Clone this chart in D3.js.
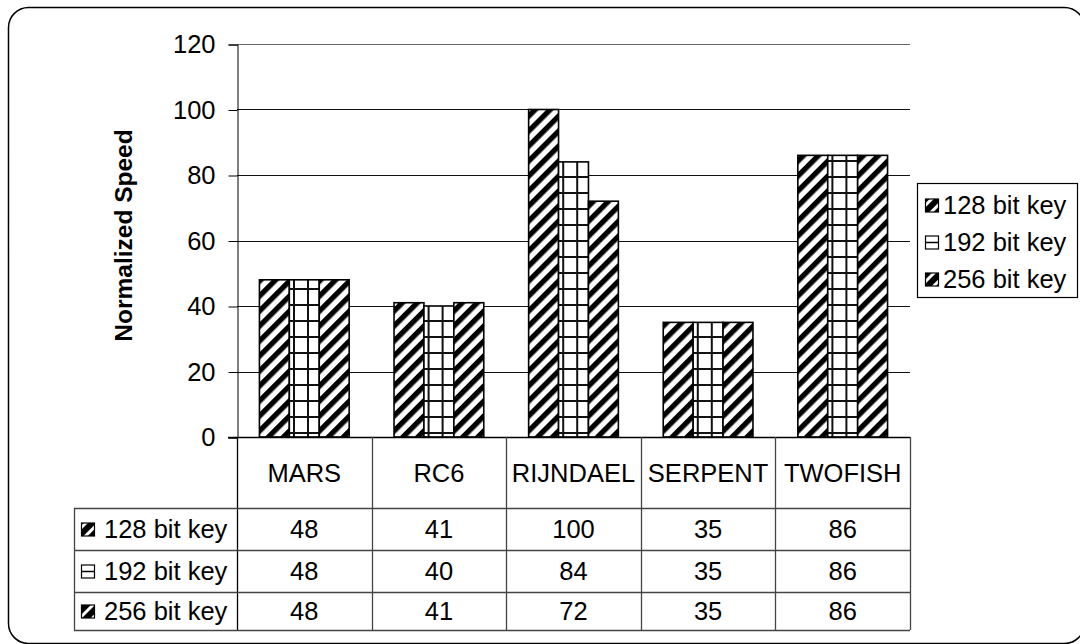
<!DOCTYPE html>
<html>
<head>
<meta charset="utf-8">
<script src="https://cdn.jsdelivr.net/npm/d3@7"></script>
<style>
  html, body { margin: 0; padding: 0; background: #fff; }
  svg { display: block; font-family: "Liberation Sans", Arial, sans-serif; }
</style>
</head>
<body>
<svg id="chart" width="1080" height="644"></svg>
<script>
// Cipher throughput normalized to the fastest configuration
const ciphers = ["MARS", "RC6", "RIJNDAEL", "SERPENT", "TWOFISH"];
const keySizes = ["128 bit key", "192 bit key", "256 bit key"];
const key128 = [48, 41, 100, 35, 86];
const key192 = [48, 40, 84, 35, 86];
const key256 = [48, 41, 72, 35, 86];
const yTicks = [0, 20, 40, 60, 80, 100, 120];
const yTitle = "Normalized Speed";

const seriesValues = [key128, key192, key256];
const patternIds = ["diag", "grid", "diag"];

const FS = 25.5;

const svg = d3.select("#chart");
const plot = { left: 237, right: 910, top: 44, bottom: 437 };
const table = { left: 74, headBottom: 508, rowH: [550, 592, 630] };

// Fill patterns
const defs = svg.append("defs");
const diag = defs.append("pattern")
  .attr("id", "diag").attr("patternUnits", "userSpaceOnUse")
  .attr("width", 10.6).attr("height", 10.6)
  .attr("patternTransform", "rotate(45)");
diag.append("rect").attr("width", 10.6).attr("height", 10.6).attr("fill", "#fff");
diag.append("rect").attr("width", 5.3).attr("height", 10.6).attr("fill", "#000");

const grid = defs.append("pattern")
  .attr("id", "grid").attr("patternUnits", "userSpaceOnUse")
  .attr("width", 14).attr("height", 16);
grid.append("rect").attr("width", 14).attr("height", 16).attr("fill", "#fff");
grid.append("rect").attr("x", 0).attr("y", 0).attr("width", 2).attr("height", 16).attr("fill", "#111");
grid.append("rect").attr("x", 0).attr("y", 0).attr("width", 14).attr("height", 2).attr("fill", "#111");

const swDiag = defs.append("pattern")
  .attr("id", "swdiag").attr("patternUnits", "userSpaceOnUse")
  .attr("width", 9).attr("height", 9)
  .attr("patternTransform", "rotate(45)");
swDiag.append("rect").attr("width", 9).attr("height", 9).attr("fill", "#fff");
swDiag.append("rect").attr("width", 6).attr("height", 9).attr("fill", "#000");

// Outer frame
svg.append("rect")
  .attr("x", 8.5).attr("y", 7.5).attr("width", 1076).attr("height", 636)
  .attr("rx", 20).attr("ry", 20)
  .attr("fill", "#fff").attr("stroke", "#000").attr("stroke-width", 1.5);

// Scales
const x = d3.scaleBand().domain(ciphers).range([plot.left, plot.right]).padding(0);
const bw = x.bandwidth();
const xs = d3.scaleBand().domain(keySizes).range([bw / 6, bw * 5 / 6]).padding(0);
const y = d3.scaleLinear().domain([0, 120]).range([plot.bottom, plot.top]);

// Gridlines
svg.append("g").selectAll("line").data(yTicks.filter(t => t > 0)).join("line")
  .attr("x1", plot.left).attr("x2", plot.right)
  .attr("y1", d => Math.round(y(d)) + 0.5).attr("y2", d => Math.round(y(d)) + 0.5)
  .attr("stroke", d => d === 120 ? "#666" : "#111").attr("stroke-width", 1);

// Y axis
const yAxis = d3.axisLeft(y).tickValues(yTicks).tickSize(9).tickPadding(13);
const gy = svg.append("g").attr("transform", `translate(${plot.left + 0.5},0.5)`).call(yAxis);
gy.select(".domain").attr("stroke", "#000");
gy.selectAll(".tick line").attr("stroke", "#000");
gy.selectAll(".tick text").attr("font-size", FS).attr("fill", "#000")
  .attr("font-family", "Liberation Sans, Arial, sans-serif");

// Y title
svg.append("text")
  .attr("transform", `translate(126,${(plot.top + plot.bottom) / 2 - 5}) rotate(-90)`)
  .attr("text-anchor", "middle").attr("dominant-baseline", "middle")
  .attr("font-size", 24.5).attr("font-weight", "bold").text(yTitle);

// Bars
const groups = svg.append("g").selectAll("g").data(ciphers).join("g")
  .attr("transform", d => `translate(${x(d)},0)`);
groups.selectAll("rect")
  .data((c, ci) => keySizes.map((k, si) => ({ k, si, v: seriesValues[si][ci] })))
  .join("rect")
  .attr("x", d => xs(d.k))
  .attr("y", d => y(d.v))
  .attr("width", xs.bandwidth())
  .attr("height", d => y(0) - y(d.v))
  .attr("fill", d => `url(#${patternIds[d.si]})`)
  .attr("stroke", "#000").attr("stroke-width", 1.6);

// X axis line (with left tick)
svg.append("line")
  .attr("x1", plot.left - 9).attr("x2", plot.right)
  .attr("y1", plot.bottom + 0.5).attr("y2", plot.bottom + 0.5)
  .attr("stroke", "#000").attr("stroke-width", 1.5);

// Data table
const tbl = svg.append("g");
const lineColor = "#444";
// Vertical column separators
const colEdges = ciphers.map(c => x(c)).concat([plot.right]);
tbl.selectAll("line.col").data(colEdges).join("line")
  .attr("class", "col")
  .attr("x1", d => Math.round(d) + 0.5).attr("x2", d => Math.round(d) + 0.5)
  .attr("y1", plot.bottom).attr("y2", table.rowH[2])
  .attr("stroke", (d, i) => i === 0 ? "#000" : lineColor).attr("stroke-width", 1.3);
// Left edge of row-label column
tbl.append("line")
  .attr("x1", table.left + 0.5).attr("x2", table.left + 0.5)
  .attr("y1", table.headBottom).attr("y2", table.rowH[2])
  .attr("stroke", lineColor).attr("stroke-width", 1.3);
// Horizontal row separators
const rowEdges = [table.headBottom].concat(table.rowH);
tbl.selectAll("line.row").data(rowEdges).join("line")
  .attr("class", "row")
  .attr("x1", table.left).attr("x2", plot.right)
  .attr("y1", d => d + 0.5).attr("y2", d => d + 0.5)
  .attr("stroke", lineColor).attr("stroke-width", 1.3);

// Category labels
tbl.selectAll("text.cat").data(ciphers).join("text")
  .attr("class", "cat")
  .attr("x", d => x(d) + bw / 2).attr("y", (plot.bottom + table.headBottom) / 2 + 9)
  .attr("text-anchor", "middle").attr("font-size", FS).text(d => d);

// Swatch drawing helper
function swatch(g, si, sx, sy) {
  const s = 13;
  g.append("rect").attr("x", sx + 0.5).attr("y", sy + 0.5).attr("width", s).attr("height", s)
    .attr("fill", patternIds[si] === "diag" ? "url(#swdiag)" : "#fff")
    .attr("stroke", "#000").attr("stroke-width", 1.2);
  if (patternIds[si] === "grid") {
    g.append("line").attr("x1", sx + 0.5).attr("x2", sx + s + 0.5)
      .attr("y1", sy + s / 2 + 0.5).attr("y2", sy + s / 2 + 0.5)
      .attr("stroke", "#000").attr("stroke-width", 1.5);
  }
}

// Table rows
const rowTops = [table.headBottom].concat(table.rowH.slice(0, 2));
keySizes.forEach((k, si) => {
  const top = rowTops[si], bot = table.rowH[si];
  const cy = (top + bot) / 2;
  const rg = tbl.append("g");
  swatch(rg, si, 81, cy - 6.5);
  rg.append("text").attr("x", 104).attr("y", cy + 9)
    .attr("font-size", FS).text(k);
  rg.selectAll("text.val").data(seriesValues[si]).join("text")
    .attr("class", "val")
    .attr("x", (d, ci) => x(ciphers[ci]) + bw / 2).attr("y", cy + 9)
    .attr("text-anchor", "middle").attr("font-size", FS).text(d => d);
});

// Legend
const lg = svg.append("g");
lg.append("rect").attr("x", 917.5).attr("y", 183.5).attr("width", 160).attr("height", 114)
  .attr("fill", "#fff").attr("stroke", "#000").attr("stroke-width", 1.2);
keySizes.forEach((k, si) => {
  const cy = 205 + si * 37;
  swatch(lg, si, 925, cy - 6.5);
  lg.append("text").attr("x", 943).attr("y", cy + 9).attr("font-size", FS).text(k);
});
</script>
</body>
</html>
